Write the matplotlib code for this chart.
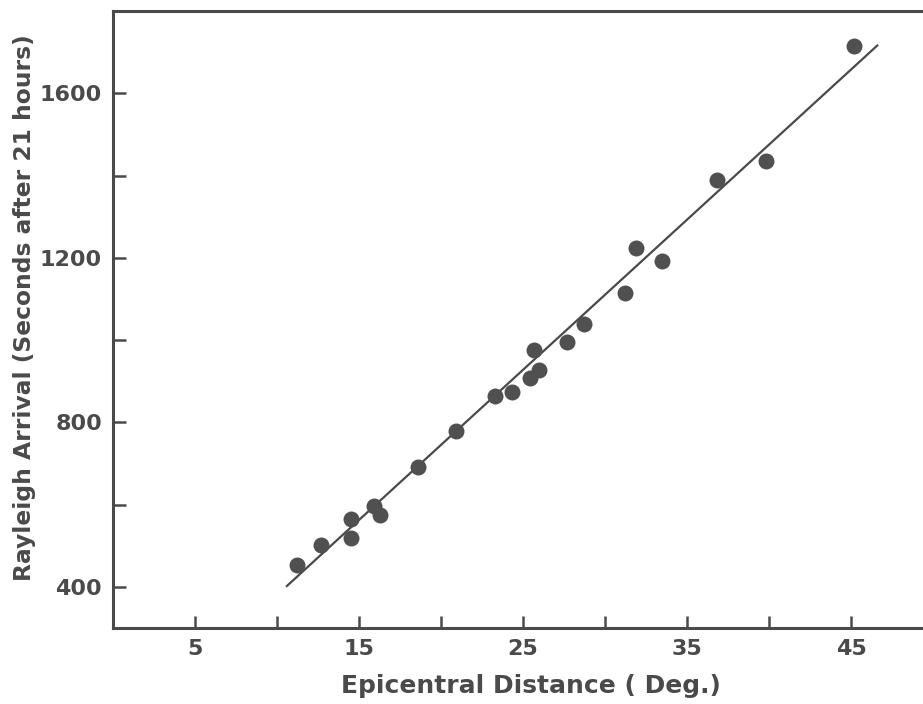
import matplotlib.pyplot as plt
import numpy as np

# data
distance = [11.2, 12.7, 14.5, 14.5, 15.9, 16.3, 18.6, 20.9, 23.3, 24.3, 25.4,
            25.7, 26.0, 27.7, 28.7, 31.2, 31.9, 33.5, 36.8, 39.8, 45.2]
arrival = [453, 502, 565, 519, 596, 575, 691, 778, 865, 873, 907,
           975, 928, 996, 1040, 1115, 1224, 1193, 1389, 1435, 1716]

# fitted line (endpoints as drawn)
fit_x = [10.6, 46.6]
fit_y = [402, 1716]

x_ticks = [5, 10, 15, 20, 25, 30, 35, 40, 45]
x_labels = ['5', '', '15', '', '25', '', '35', '', '45']
y_ticks = [400, 600, 800, 1000, 1200, 1400, 1600]
y_labels = ['400', '', '800', '', '1200', '', '1600']

ink = '#4a4a4a'

fig = plt.figure(figsize=(9.23, 7.04), dpi=100)
ax = fig.add_axes([113 / 923, 76 / 704, 820 / 923, 617 / 704])

ax.plot(fit_x, fit_y, color=ink, linewidth=1.6)
ax.plot(distance, arrival, 'o', color='#505050', markersize=11.5, markeredgewidth=0)

ax.set_xlim(0, 50)
ax.set_ylim(300, 1800)
ax.set_xticks(x_ticks)
ax.set_xticklabels(x_labels)
ax.set_yticks(y_ticks)
ax.set_yticklabels(y_labels)

ax.tick_params(direction='in', length=9, width=1.8, color=ink, labelcolor=ink,
               labelsize=16, pad=8)
for s in ax.spines.values():
    s.set_linewidth(2.2)
    s.set_color(ink)

ax.set_xlabel('Epicentral Distance ( Deg.)', fontsize=18, color=ink,
              fontweight='bold')
ax.set_ylabel('Rayleigh Arrival (Seconds after 21 hours)', fontsize=16.8,
              color=ink, fontweight='bold')
ax.xaxis.set_label_coords(0.51, -0.074)
ax.yaxis.set_label_coords(-0.094, 0.52)
for t in ax.get_xticklabels() + ax.get_yticklabels():
    t.set_fontweight('bold')

fig.savefig('out.png', dpi=100)
